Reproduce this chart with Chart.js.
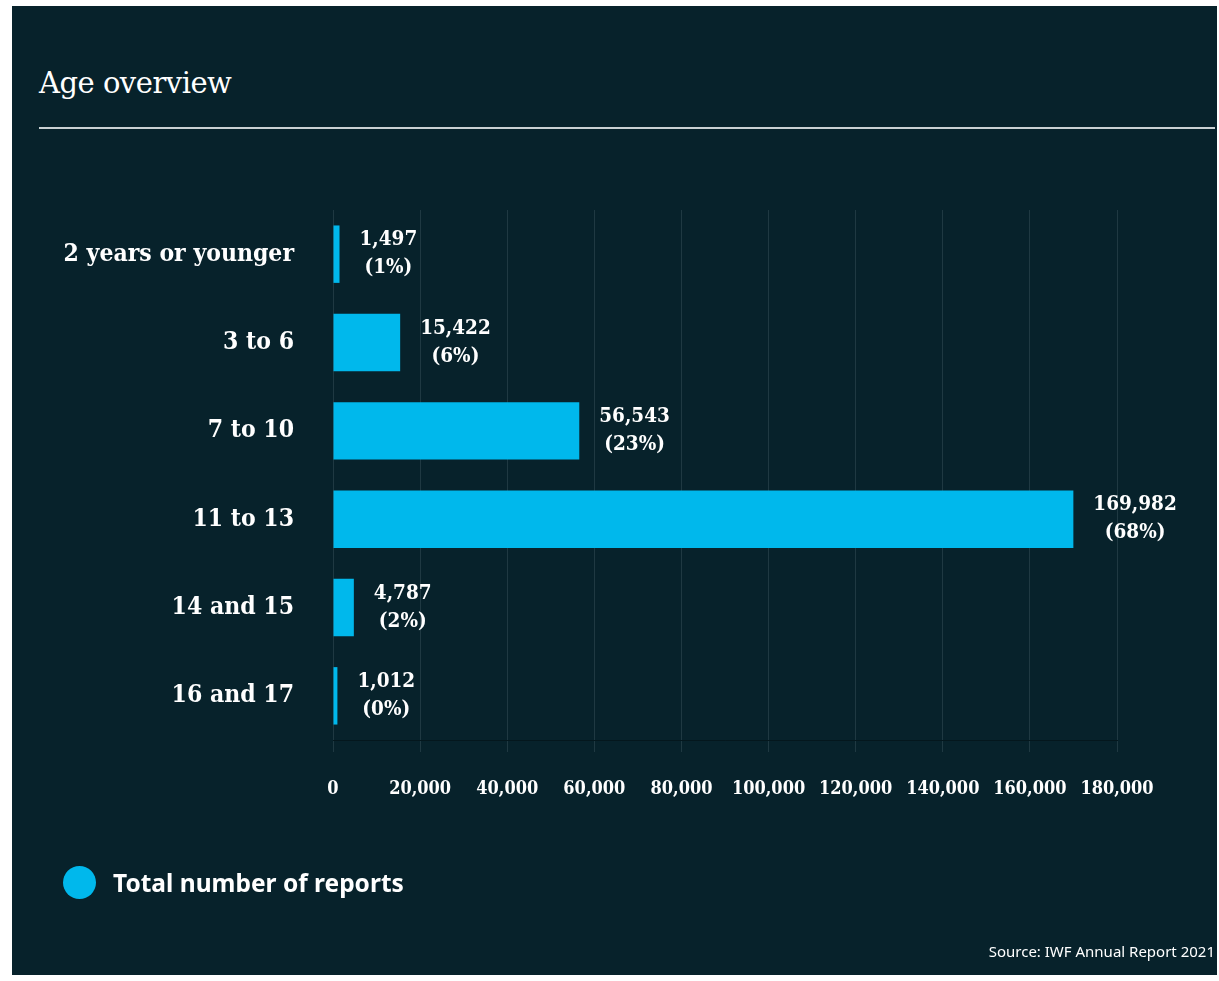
<!DOCTYPE html>
<html>
<head>
<meta charset="utf-8">
<script src="https://cdn.jsdelivr.net/npm/chart.js@4/dist/chart.umd.min.js"></script>
<style>
    html, body { margin:0; padding:0; background:#ffffff; }
    #page { position:relative; width:1219px; height:981px; overflow:hidden; }
    #panel { position:absolute; left:12px; top:6px; width:1205px; height:969px; background:#07222b; }
    #title { position:absolute; left:39px; top:66px; color:#ffffff; font-family:"DejaVu Serif", serif; font-size:29px; letter-spacing:-0.5px; }
    #rule { position:absolute; left:39px; top:127px; width:1176px; height:2px; background:#c9d1d3; }
    #chart { position:absolute; left:0; top:0; }
    #legend { position:absolute; left:63px; top:866px; display:flex; align-items:center; color:#ffffff; font-family:"Noto Sans", sans-serif; font-weight:bold; font-size:24.5px; }
    #legend .dot { width:33px; height:33px; border-radius:50%; background:#00b8ec; margin-right:17px; }
    #source { position:absolute; right:4px; top:941px; color:#ffffff; font-family:"Noto Sans", sans-serif; font-size:15px; }
</style>
</head>
<body>
<div id="page">
    <div id="panel"></div>
    <div id="title">Age overview</div>
    <div id="rule"></div>
    <canvas id="chart" width="1219" height="981"></canvas>
    <div id="legend"><span class="dot"></span><span id="legendText"></span></div>
    <div id="source">Source: IWF Annual Report 2021</div>
</div>
<script>

// ==========================================================
// Data
// ==========================================================

const seriesLabel = "Total number of reports";

const ageGroups = [
    "2 years or younger",
    "3 to 6",
    "7 to 10",
    "11 to 13",
    "14 and 15",
    "16 and 17"
];

const reportCounts = [1497, 15422, 56543, 169982, 4787, 1012];

const reportShares = ["1%", "6%", "23%", "68%", "2%", "0%"];

const axisMax = 180000;
const axisStep = 20000;

const serifFont = "'DejaVu Serif Condensed', 'DejaVu Serif', serif";

// ==========================================================
// Value labels next to each bar
// ==========================================================

const valueLabels = {

    id:"valueLabels",

    afterDatasetsDraw(chart){

        const ctx = chart.ctx;
        const meta = chart.getDatasetMeta(0);

        ctx.save();
        ctx.font = "bold 20.5px " + serifFont;
        ctx.fillStyle = "#ffffff";
        ctx.textAlign = "center";
        ctx.textBaseline = "middle";

        meta.data.forEach((bar, i) => {

            const lines = [
                reportCounts[i].toLocaleString("en-US"),
                "(" + reportShares[i] + ")"
            ];

            const w = Math.max(...lines.map(t => ctx.measureText(t).width));
            const cx = bar.x + 20 + w / 2;

            ctx.fillText(lines[0], cx, bar.y - 14);
            ctx.fillText(lines[1], cx, bar.y + 14);

        });

        ctx.restore();

    }

};

// ==========================================================
// Chart
// ==========================================================

document.getElementById("legendText").textContent = seriesLabel;

const ctx = document.getElementById("chart").getContext("2d");

new Chart(ctx,{

    type:"bar",

    data:{
        labels:ageGroups,
        datasets:[{
            label:seriesLabel,
            data:reportCounts,
            backgroundColor:"#00b8ec",
            borderWidth:0,
            barPercentage:0.65,
            categoryPercentage:1
        }]
    },

    options:{
        indexAxis:"y",
        responsive:false,
        animation:false,
        layout:{
            padding:{ left:12, top:210, right:102, bottom:181 }
        },
        plugins:{
            legend:{ display:false },
            tooltip:{ enabled:false }
        },
        scales:{
            x:{
                min:0,
                max:axisMax,
                afterFit(axis){ axis.height = 60; },
                ticks:{
                    stepSize:axisStep,
                    color:"#ffffff",
                    padding:27,
                    maxRotation:0,
                    font:{ family:serifFont, weight:"bold", size:18 },
                    callback:(v) => Number(v).toLocaleString("en-US")
                },
                grid:{
                    color:"#1f3942",
                    lineWidth:1,
                    tickLength:12,
                    drawTicks:true
                },
                border:{
                    display:true,
                    color:"#04171d",
                    width:1
                }
            },
            y:{
                afterFit(axis){ axis.width = 321; },
                ticks:{
                    color:"#ffffff",
                    padding:39,
                    font:{ family:serifFont, weight:"bold", size:24.5 }
                },
                grid:{ display:false, drawTicks:false },
                border:{ display:false }
            }
        }
    },

    plugins:[valueLabels]

});

</script>
</body>
</html>
